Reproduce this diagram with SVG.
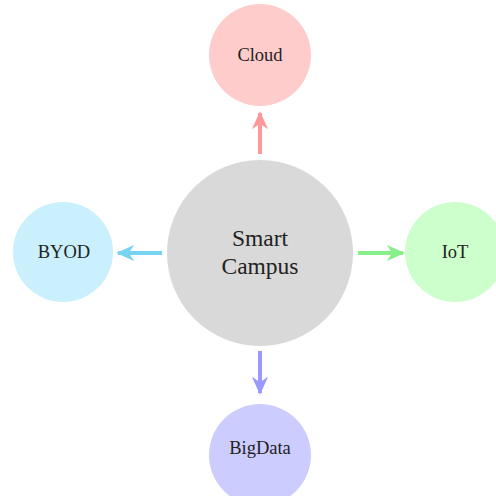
<svg xmlns="http://www.w3.org/2000/svg" width="496" height="496" viewBox="0 0 496 496">
<style>
text{font-family:"Liberation Serif","DejaVu Serif",serif;fill:#222;text-anchor:middle;dominant-baseline:central}
.sm{font-size:18.5px}
.big{font-size:23.5px}
.c{stroke-width:4;fill:none}
</style>
<defs>
<marker id="aR" viewBox="0 0 10 10" refX="9" refY="5" markerWidth="4.5" markerHeight="4.5" orient="auto" markerUnits="strokeWidth"><path d="M0,0.5 L10,5 L0,9.5 L3,5 Z" fill="#ff9999"/></marker>
<marker id="aB" viewBox="0 0 10 10" refX="9" refY="5" markerWidth="4.5" markerHeight="4.5" orient="auto" markerUnits="strokeWidth"><path d="M0,0.5 L10,5 L0,9.5 L3,5 Z" fill="#77d4f0"/></marker>
<marker id="aG" viewBox="0 0 10 10" refX="9" refY="5" markerWidth="4.5" markerHeight="4.5" orient="auto" markerUnits="strokeWidth"><path d="M0,0.5 L10,5 L0,9.5 L3,5 Z" fill="#88f088"/></marker>
<marker id="aP" viewBox="0 0 10 10" refX="9" refY="5" markerWidth="4.5" markerHeight="4.5" orient="auto" markerUnits="strokeWidth"><path d="M0,0.5 L10,5 L0,9.5 L3,5 Z" fill="#9999ff"/></marker>
</defs>
<rect width="496" height="496" fill="#fff"/>
<g id="connectors">
<line class="c" x1="260" y1="154" x2="260" y2="113" stroke="#ff9999" marker-end="url(#aR)"/>
<line class="c" x1="162" y1="253" x2="118" y2="253" stroke="#77d4f0" marker-end="url(#aB)"/>
<line class="c" x1="358" y1="253" x2="403" y2="253" stroke="#88f088" marker-end="url(#aG)"/>
<line class="c" x1="260" y1="351" x2="260" y2="393" stroke="#9999ff" marker-end="url(#aP)"/>
</g>
<g id="center"><circle cx="260" cy="253" r="93" fill="#d9d9d9"/><text class="big" x="260" y="238">Smart</text><text class="big" x="260" y="266">Campus</text></g>
<g id="cloud"><circle cx="260" cy="55" r="51" fill="#ffcccc"/><text class="sm" x="260" y="55">Cloud</text></g>
<g id="byod"><circle cx="63" cy="252" r="50" fill="#c9f0fc"/><text class="sm" x="64" y="252">BYOD</text></g>
<g id="iot"><circle cx="455" cy="252" r="50" fill="#ccffcc"/><text class="sm" x="455" y="252">IoT</text></g>
<g id="bigdata"><circle cx="260" cy="455" r="51" fill="#ccccff"/><text class="sm" x="260" y="448">BigData</text></g>
</svg>
